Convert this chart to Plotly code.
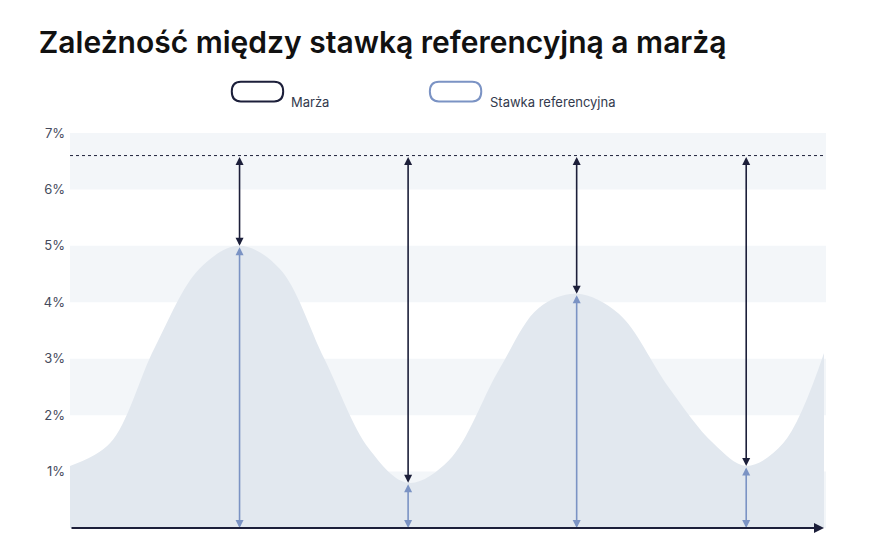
import plotly.graph_objects as go

# curve of the reference rate (x in arbitrary time units, y in %)
curve_x = [0, 40, 85, 130, 170, 210, 255, 300, 339, 380, 430, 470, 508, 550, 600, 645, 678, 715, 756]
curve_y = [1.1, 1.5, 3.2, 4.6, 5.0, 4.6, 3.0, 1.4, 0.8, 1.2, 2.8, 3.9, 4.15, 3.8, 2.5, 1.5, 1.1, 1.5, 3.1]

arrow_x = [170, 339, 508, 678]
arrow_rate = [5.0, 0.8, 4.15, 1.1]
total_rate = 6.6

y_ticks = [1, 2, 3, 4, 5, 6, 7]
y_labels = ["1%", "2%", "3%", "4%", "5%", "6%", "7%"]
bands = [(0, 1), (2, 3), (4, 5), (6, 7)]

DARK = "#1c1f3a"
BLUE = "#7b93c4"

fig = go.Figure()
fig.add_trace(go.Scatter(x=curve_x, y=curve_y, mode="lines", line=dict(shape="spline", width=0, smoothing=1.0),
                         fill="tozeroy", fillcolor="#e2e8ef", hoverinfo="skip", showlegend=False))

shapes = []
for lo, hi in bands:
    shapes.append(dict(type="rect", xref="paper", yref="y", x0=0, x1=1, y0=lo, y1=hi,
                       fillcolor="#f3f6f9", line_width=0, layer="below"))
shapes.append(dict(type="line", xref="paper", yref="y", x0=0, x1=1, y0=total_rate, y1=total_rate,
                   line=dict(color=DARK, width=1, dash="dot")))

# legend icons (rounded loops)
def loop(x0, color):
    x1 = x0 + 0.068
    return dict(type="path", xref="paper", yref="paper",
                path=f"M {x0+0.012},1.13 L {x1-0.012},1.13 Q {x1},1.13 {x1},1.105 Q {x1},1.08 {x1-0.012},1.08 "
                     f"L {x0+0.012},1.08 Q {x0},1.08 {x0},1.105 Q {x0},1.13 {x0+0.012},1.13 Z",
                line=dict(color=color, width=2))
shapes.append(loop(0.214, DARK))
shapes.append(loop(0.476, BLUE))

annotations = []
for x, r in zip(arrow_x, arrow_rate):
    annotations.append(dict(x=x, y=r, ax=x, ay=total_rate, xref="x", yref="y", axref="x", ayref="y",
                            text="", showarrow=True, arrowhead=2, arrowside="end+start", arrowsize=1,
                            arrowwidth=1.6, arrowcolor=DARK))
    annotations.append(dict(x=x, y=0, ax=x, ay=r, xref="x", yref="y", axref="x", ayref="y",
                            text="", showarrow=True, arrowhead=2, arrowside="end+start", arrowsize=1,
                            arrowwidth=1.6, arrowcolor=BLUE))
annotations.append(dict(x=756, y=0, ax=0, ay=0, xref="x", yref="y", axref="x", ayref="y", text="",
                        showarrow=True, arrowhead=2, arrowsize=1, arrowwidth=2, arrowcolor=DARK))
annotations.append(dict(x=0.29, y=1.105, xref="paper", yref="paper", text="Marża", showarrow=False,
                        xanchor="left", font=dict(size=13, color="#333a4d")))
annotations.append(dict(x=0.553, y=1.105, xref="paper", yref="paper", text="Stawka referencyjna",
                        showarrow=False, xanchor="left", font=dict(size=13, color="#333a4d")))
annotations.append(dict(x=0.5, y=-0.035, xref="paper", yref="paper", text="Czas", showarrow=False,
                        yanchor="top", font=dict(size=13, color="#333a4d")))

fig.update_layout(
    width=880, height=540, margin=dict(l=62, r=62, t=125, b=20),
    paper_bgcolor="white", plot_bgcolor="white",
    font=dict(family="Inter, sans-serif"),
    title=dict(text="Zależność między stawką referencyjną a marżą", x=0.035, xanchor="left", y=0.955,
               font=dict(size=30, color="#111111", weight=600)),
    xaxis=dict(range=[0, 758], visible=False, fixedrange=True, automargin=False),
    yaxis=dict(range=[0, 7], tickvals=y_ticks, ticktext=y_labels, showgrid=False, zeroline=False,
               ticks="", tickfont=dict(size=13, color="#444a5c"), ticklabelstandoff=4, fixedrange=True,
               automargin=False),
    shapes=shapes, annotations=annotations, showlegend=False,
)
fig.write_html("out.html")
